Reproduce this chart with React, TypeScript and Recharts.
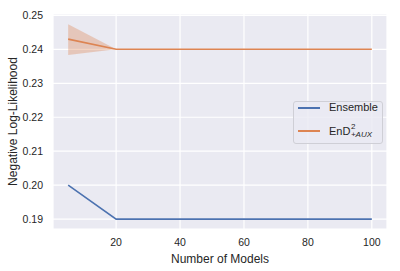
import React from "react";
import {
  ComposedChart,
  Line,
  Area,
  XAxis,
  YAxis,
  CartesianGrid,
} from "recharts";

const models = [5, 20, 40, 60, 80, 100];
const ensembleNLL = [0.2, 0.19, 0.19, 0.19, 0.19, 0.19];
const endAuxNLL = [0.243, 0.24, 0.24, 0.24, 0.24, 0.24];
const endAuxLow = [0.2383, 0.24, 0.24, 0.24, 0.24, 0.24];
const endAuxHigh = [0.2474, 0.24, 0.24, 0.24, 0.24, 0.24];

const xTicks = [20, 40, 60, 80, 100];
const yTicks = [0.19, 0.2, 0.21, 0.22, 0.23, 0.24, 0.25];

const BLUE = "#4C72B0";
const ORANGE = "#DD8452";
const TEXT = "#262626";
const FONT = "'Liberation Sans', Arial, sans-serif";

const data = models.map((m, i) => ({
  models: m,
  ensemble: ensembleNLL[i],
  endAux: endAuxNLL[i],
  band: [endAuxLow[i], endAuxHigh[i]],
}));

// drawn as an overlay so it doesn't eat plot space
const LegendBox = () => (
  <div
    style={{
      position: "absolute",
      left: 293,
      top: 101,
      width: 90,
      height: 43,
      border: "1px solid #cfcfd6",
      borderRadius: 3,
      background: "rgba(234,234,242,0.8)",
      fontFamily: FONT,
      fontSize: 11,
      color: TEXT,
      boxSizing: "border-box",
    }}
  >
    <div style={{ position: "absolute", left: 4, top: 5, width: 22, height: 1.5, background: BLUE }} />
    <div style={{ position: "absolute", left: 35, top: -1 }}>Ensemble</div>
    <div style={{ position: "absolute", left: 4, top: 28, width: 22, height: 1.5, background: ORANGE }} />
    <div style={{ position: "absolute", left: 35, top: 21, display: "flex", alignItems: "center" }}>
      <span>EnD</span>
      <span
        style={{
          display: "inline-flex",
          flexDirection: "column",
          fontSize: 8,
          lineHeight: "8px",
          marginLeft: 0.5,
        }}
      >
        <span>2</span>
        <span style={{ fontStyle: "italic" }}>+AUX</span>
      </span>
    </div>
  </div>
);

export default function App() {
  return (
    <div style={{ position: "absolute", left: 0, top: 0, width: 400, height: 271, background: "#fff" }}>
      <ComposedChart
        width={400}
        height={271}
        data={data}
        margin={{ top: 14, right: 13, bottom: 0, left: 0 }}
      >
        <CartesianGrid fill="#EAEAF2" stroke="#ffffff" strokeWidth={1.2} />
        <XAxis
          dataKey="models"
          type="number"
          domain={[0.25, 104.75]}
          ticks={xTicks}
          axisLine={false}
          tickLine={false}
          tickSize={0}
          tickMargin={10}
          height={42}
          tick={{ fill: TEXT, fontSize: 10.5, fontFamily: FONT }}
          label={{
            value: "Number of Models",
            position: "insideBottom",
            offset: 8,
            fill: TEXT,
            fontSize: 12,
            fontFamily: FONT,
          }}
        />
        <YAxis
          type="number"
          domain={[0.1871, 0.2504]}
          ticks={yTicks}
          tickFormatter={(v: number) => v.toFixed(2)}
          axisLine={false}
          tickLine={false}
          tickSize={0}
          tickMargin={10}
          width={53}
          tick={{ fill: TEXT, fontSize: 10.5, fontFamily: FONT }}
          label={{
            value: "Negative Log-Likelihood",
            angle: -90,
            position: "center",
            dx: -14,
            fill: TEXT,
            fontSize: 12,
            fontFamily: FONT,
          }}
        />
        <Area
          dataKey="band"
          stroke="none"
          fill={ORANGE}
          fillOpacity={0.35}
          isAnimationActive={false}
        />
        <Line dataKey="ensemble" stroke={BLUE} strokeWidth={1.6} dot={false} isAnimationActive={false} />
        <Line dataKey="endAux" stroke={ORANGE} strokeWidth={1.6} dot={false} isAnimationActive={false} />
      </ComposedChart>
      <LegendBox />
    </div>
  );
}
